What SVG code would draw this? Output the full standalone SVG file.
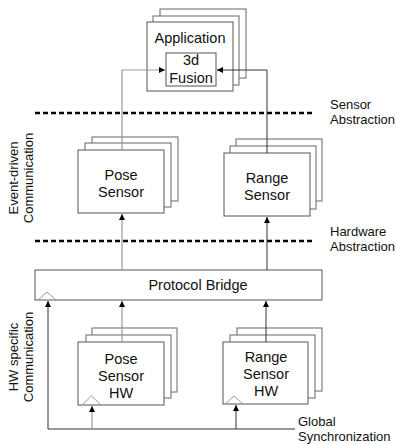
<svg xmlns="http://www.w3.org/2000/svg" width="396" height="444" viewBox="0 0 396 444">
<defs>
<marker id="ah" viewBox="0 0 10 10" refX="10" refY="5" markerWidth="6" markerHeight="8" markerUnits="userSpaceOnUse" orient="auto">
<path d="M0,0 L10,5 L0,10 z" fill="#000"/>
</marker>
</defs>
<style>
.box{fill:#fff;stroke:#555;stroke-width:1}
.back{fill:#fff;stroke:#666;stroke-width:1}
.t{font-family:"Liberation Sans",Arial,sans-serif;font-size:14.5px;fill:#111;text-anchor:middle}
.s{font-family:"Liberation Sans",Arial,sans-serif;font-size:13px;fill:#111}
.dash{stroke:#000;stroke-width:2.5;stroke-dasharray:5,3;fill:none}
.g{stroke:#999;stroke-width:1.2;fill:none}
.k{stroke:#333;stroke-width:1;fill:none}
.tri{fill:none;stroke:#999;stroke-width:1}
</style>
<rect width="396" height="444" fill="#fff"/>
<g id="abstraction-lines">
<line class="dash" x1="35" y1="113" x2="312" y2="113"/>
<line class="dash" x1="35" y1="241" x2="312" y2="241"/>
</g>
<g id="labels">
<text class="s" x="330" y="109">Sensor</text>
<text class="s" x="330" y="124">Abstraction</text>
<text class="s" x="330" y="236">Hardware</text>
<text class="s" x="330" y="251">Abstraction</text>
<text class="s" x="298" y="426">Global</text>
<text class="s" x="298" y="441">Synchronization</text>
<text class="s" transform="translate(18,178) rotate(-90)" text-anchor="middle">Event-driven</text>
<text class="s" transform="translate(33,178) rotate(-90)" text-anchor="middle">Communication</text>
<text class="s" transform="translate(18,357) rotate(-90)" text-anchor="middle">HW specific</text>
<text class="s" transform="translate(33,357) rotate(-90)" text-anchor="middle">Communication</text>
</g>
<g id="application">
<rect class="back" x="160" y="9" width="86" height="69"/>
<rect class="back" x="153" y="16" width="86" height="69"/>
<rect class="box" x="147" y="22" width="86" height="69"/>
<text class="t" x="190" y="43">Application</text>
</g>
<g id="fusion">
<rect class="box" x="166" y="53" width="50" height="33"/>
<text class="t" x="191" y="65">3d</text>
<text class="t" x="191" y="83">Fusion</text>
</g>
<g id="pose-sensor">
<rect class="back" x="92" y="137" width="86" height="64"/>
<rect class="back" x="85" y="143" width="86" height="64"/>
<rect class="box" x="78" y="150" width="86" height="63"/>
<text class="t" x="121" y="180">Pose</text>
<text class="t" x="121" y="197">Sensor</text>
</g>
<g id="range-sensor">
<rect class="back" x="236" y="139" width="86" height="62"/>
<rect class="back" x="230" y="146" width="86" height="63"/>
<rect class="box" x="224" y="153" width="86" height="63"/>
<text class="t" x="267" y="183">Range</text>
<text class="t" x="267" y="200">Sensor</text>
</g>
<g id="protocol-bridge">
<rect class="box" x="35" y="270" width="287" height="30"/>
<polyline class="tri" points="38,300 47,292 56,300"/>
<text class="t" x="198" y="290">Protocol Bridge</text>
</g>
<g id="pose-sensor-hw">
<rect class="back" x="92" y="328" width="85" height="64"/>
<rect class="back" x="86" y="335" width="85" height="63"/>
<rect class="box" x="78" y="342" width="86" height="63"/>
<polyline class="tri" points="82,405 91.5,396 101,405"/>
<text class="t" x="121" y="364">Pose</text>
<text class="t" x="121" y="381">Sensor</text>
<text class="t" x="121" y="398">HW</text>
</g>
<g id="range-sensor-hw">
<rect class="back" x="237" y="328" width="85" height="63"/>
<rect class="back" x="230" y="335" width="85" height="63"/>
<rect class="box" x="223" y="342" width="85" height="62"/>
<polyline class="tri" points="225,404 234,396 243,404"/>
<text class="t" x="266" y="362">Range</text>
<text class="t" x="266" y="379">Sensor</text>
<text class="t" x="266" y="396">HW</text>
</g>
<g id="connectors">
<polyline class="g" points="122,150 122,70 165,70" marker-end="url(#ah)"/>
<polyline class="k" points="267,153 267,70 217,70" marker-end="url(#ah)"/>
<line class="g" x1="122" y1="270" x2="122" y2="214" marker-end="url(#ah)"/>
<line class="k" x1="267" y1="270" x2="267" y2="217" marker-end="url(#ah)"/>
<line class="g" x1="122" y1="342" x2="122" y2="301" marker-end="url(#ah)"/>
<line class="k" x1="266" y1="342" x2="266" y2="301" marker-end="url(#ah)"/>
<polyline class="k" points="295,429 48,429 48,301" marker-end="url(#ah)"/>
<line class="g" x1="92" y1="429" x2="92" y2="406" marker-end="url(#ah)"/>
<line class="k" x1="236" y1="429" x2="236" y2="405" marker-end="url(#ah)"/>
</g>
</svg>
